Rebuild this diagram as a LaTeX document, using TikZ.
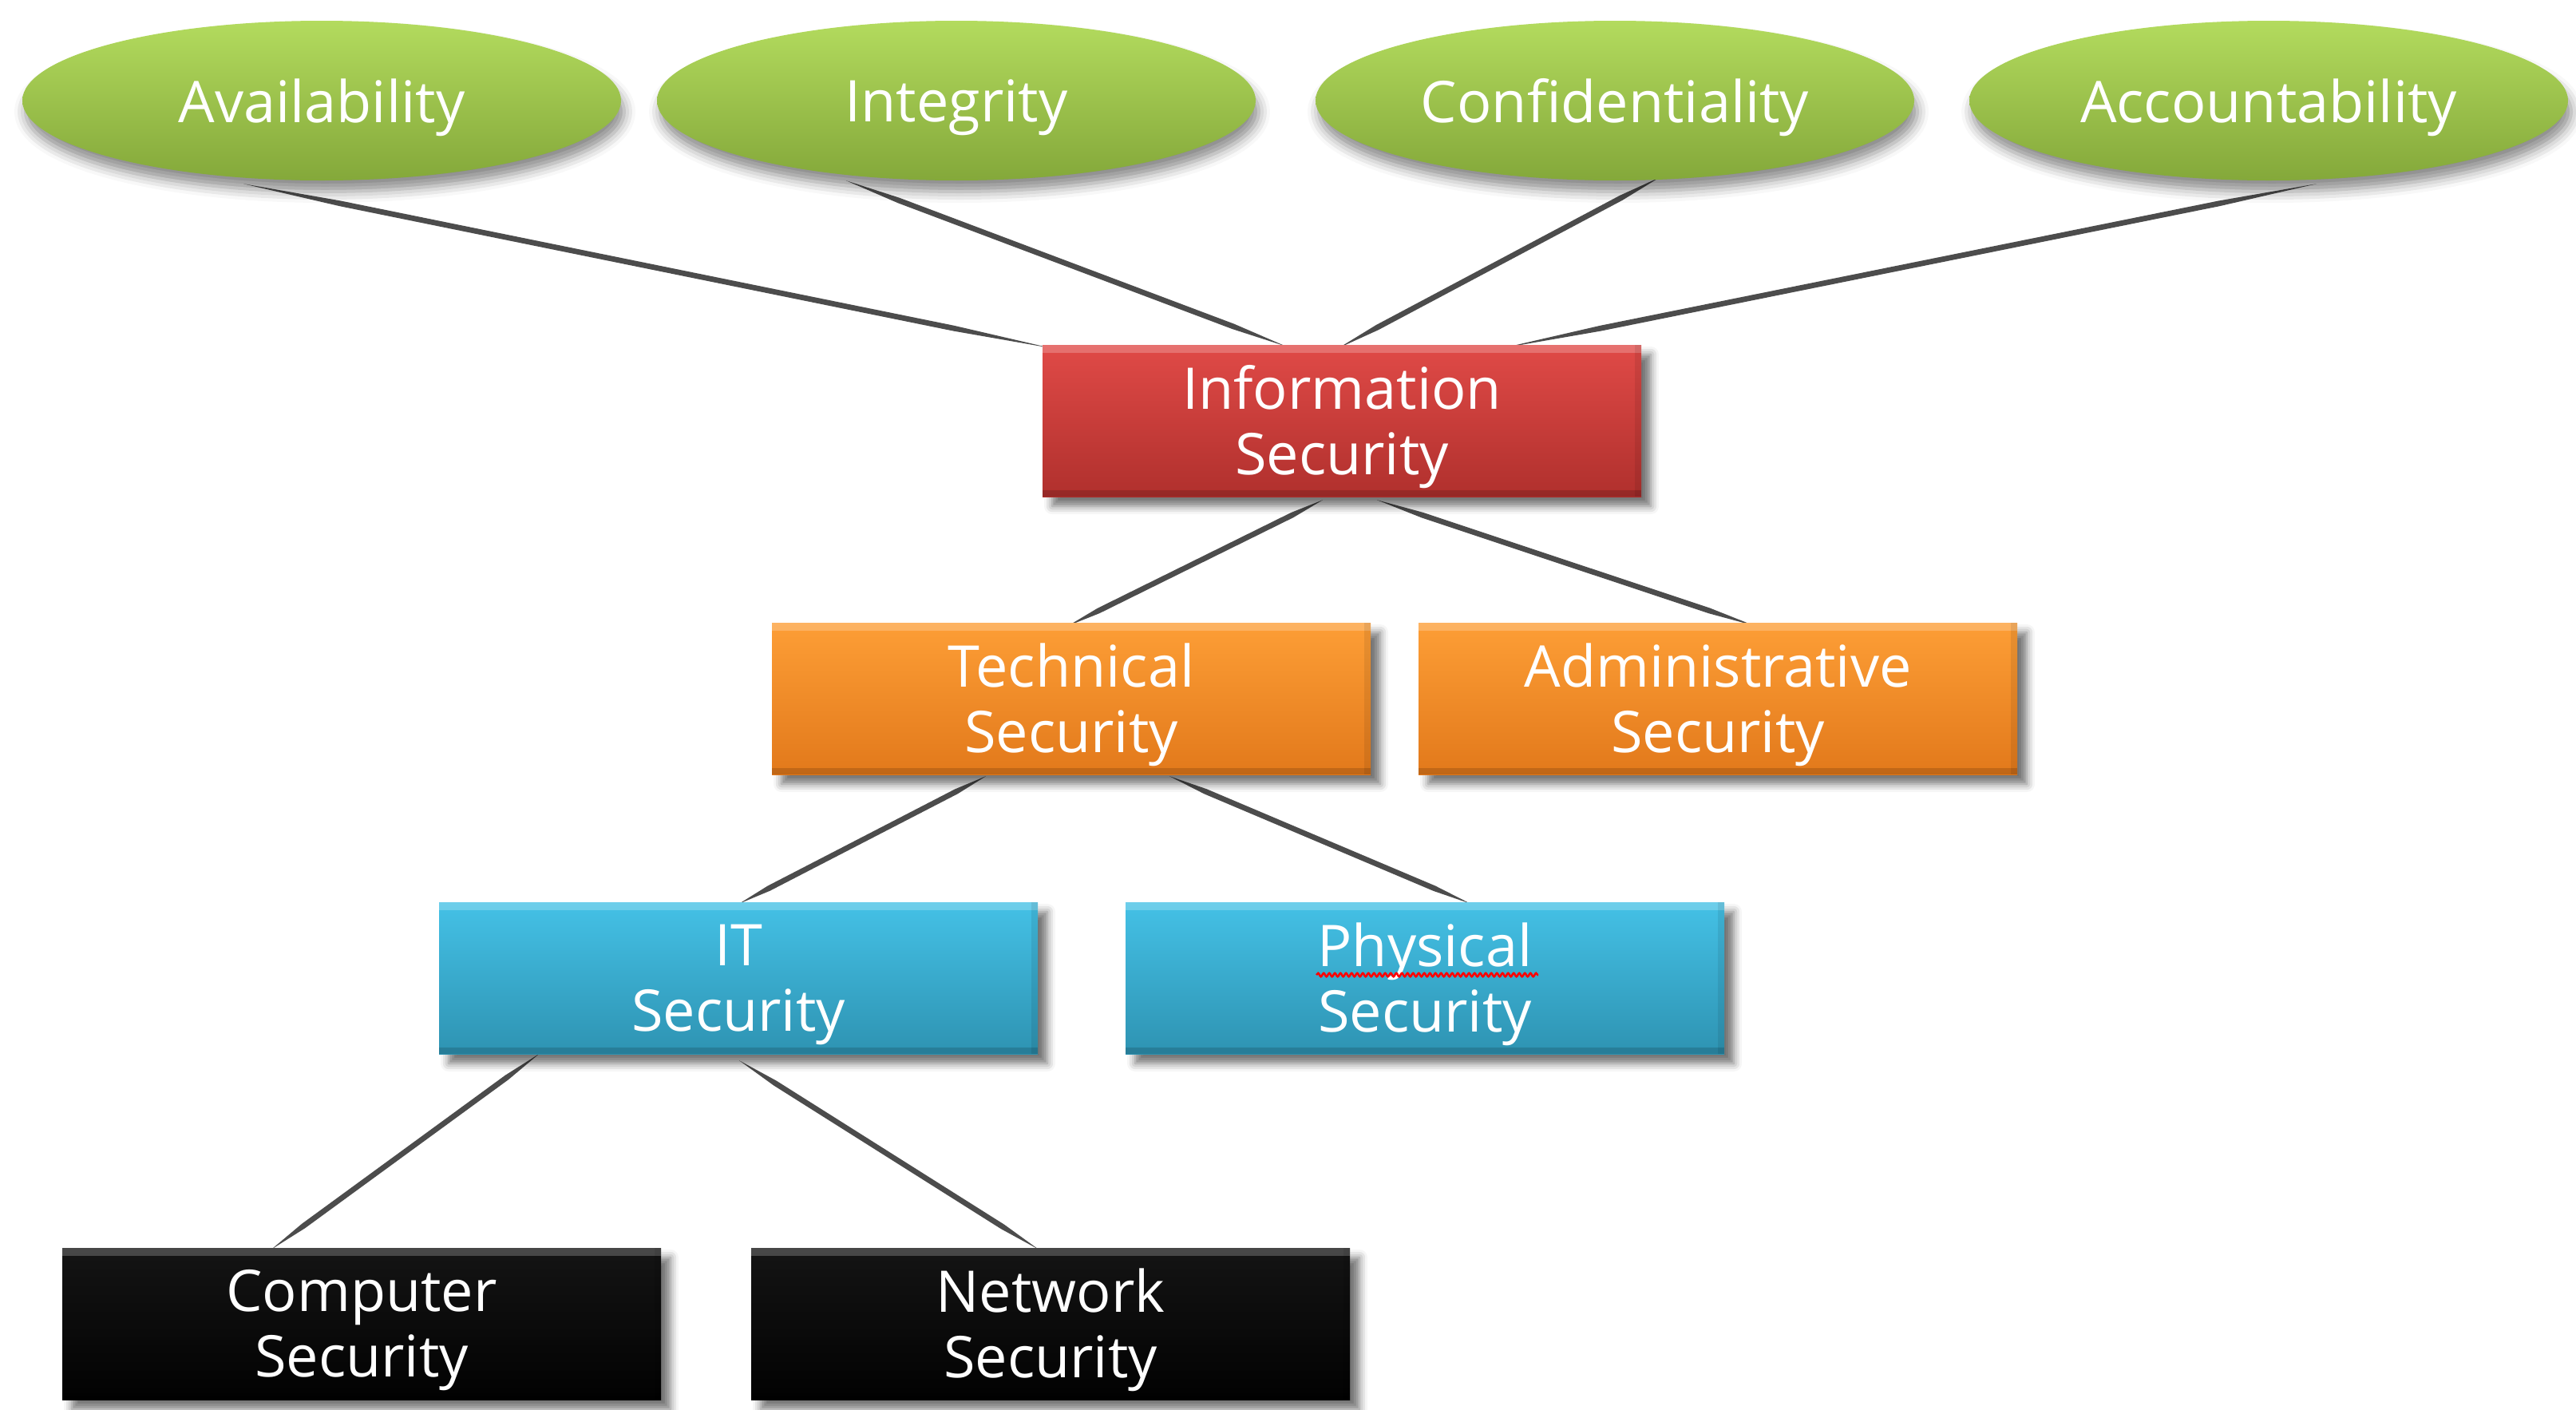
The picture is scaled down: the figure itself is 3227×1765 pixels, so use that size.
\documentclass[tikz,border=0pt]{standalone}
\usepackage{fontspec}
\setmainfont{Open Sans}
\usetikzlibrary{shapes.geometric,shadows.blur,calc,decorations.pathmorphing}
\pgfdeclarelayer{bg}
\pgfsetlayers{bg,main}

\definecolor{grnTop}{HTML}{B3DB5E}
\definecolor{grnBot}{HTML}{84A83A}
\definecolor{redTop}{HTML}{E04A47}
\definecolor{redBot}{HTML}{B0302D}
\definecolor{orgTop}{HTML}{FD9E36}
\definecolor{orgBot}{HTML}{E2791B}
\definecolor{bluTop}{HTML}{44C1E6}
\definecolor{bluBot}{HTML}{2E93B2}
\definecolor{inkTop}{HTML}{141414}
\definecolor{inkBot}{HTML}{020202}
\definecolor{strokeInk}{HTML}{4C4C4C}

\tikzset{
  labeltext/.style={text=white, font=\fontsize{72}{82}\selectfont, align=center, inner sep=0pt},
  pillar/.style={ellipse, minimum width=750pt, minimum height=200pt, inner sep=0pt,
    top color=grnTop, bottom color=grnBot,
    blur shadow={shadow xshift=4pt, shadow yshift=-14pt, shadow blur radius=14pt, shadow opacity=45},
    label={[labeltext, yshift=-9pt]center:{#1}}},
  tile/.style={rectangle, minimum width=750pt, minimum height=190pt, inner sep=0pt,
    blur shadow={shadow xshift=12pt, shadow yshift=-12pt, shadow blur radius=10pt, shadow opacity=55},
    path picture={
      \fill[white, opacity=0.22] (path picture bounding box.north west) rectangle ([yshift=-10pt]path picture bounding box.north east);
      \fill[black, opacity=0.15] (path picture bounding box.south west) rectangle ([yshift=8pt]path picture bounding box.south east);
      \fill[black, opacity=0.08] (path picture bounding box.south east) rectangle ([xshift=-8pt]path picture bounding box.north east);
    },
    label={[labeltext, yshift=-8pt]center:{#1}}},
  redtile/.style={tile={#1}, top color=redTop, bottom color=redBot},
  orangetile/.style={tile={#1}, top color=orgTop, bottom color=orgBot},
  bluetile/.style={tile={#1}, top color=bluTop, bottom color=bluBot},
  inktile/.style={tile={#1}, top color=inkTop, bottom color=inkBot},
}

% tapered brush stroke between two named points
\newcommand\brush[2]{%
  \fill[strokeInk]
    (#1) -- ($(#1)!0.12!(#2)!3.4pt!90:(#2)$) -- ($(#1)!0.88!(#2)!3.4pt!90:(#2)$)
    -- (#2) -- ($(#1)!0.88!(#2)!3.4pt!-90:(#2)$) -- ($(#1)!0.12!(#2)!3.4pt!-90:(#2)$) -- cycle;}

\begin{document}
\begin{tikzpicture}[x=1pt, y=-1pt]
  \useasboundingbox (0,0) rectangle (3227,1765);

  % top row: the four properties
  \node[pillar={Availability}]    (avail) at (403,126)  {};
  \node[pillar={Integrity}]       (integ) at (1198,126) {};
  \node[pillar={Confidentiality}] (confi) at (2023,126) {};
  \node[pillar={Accountability}]  (accnt) at (2842,126) {};

  % hierarchy boxes
  \node[redtile={Information\\Security}]    (info)  at (1681,527)  {};
  \node[orangetile={Technical\\Security}]   (tech)  at (1342,875)  {};
  \node[orangetile={Administrative\\Security}] (admin) at (2152,875) {};
  \node[bluetile={IT\\Security}]            (itsec) at (925,1225)  {};
  \node[bluetile={Physical\\Security}]      (phys)  at (1785,1225) {};
  \node[inktile={Computer\\ Security}]      (comp)  at (453,1658)  {};
  \node[inktile={Network\\Security}]        (netw)  at (1316,1658) {};

  % spell-check squiggle under "Physical"
  \draw[red, line width=2.5pt, decorate, decoration={snake, amplitude=2.2pt, segment length=7pt}]
    ($(phys.center)+(-136,-4)$) -- ($(phys.center)+(142,-4)$);

  % stroke end points
  \coordinate (a1) at ($(avail.south)+(-98,4)$);
  \coordinate (a2) at ($(info.north west)+(10,4)$);
  \coordinate (i1) at ($(integ.south)+(-138,0)$);
  \coordinate (i2) at ($(info.north)+(-70,2)$);
  \coordinate (c1) at ($(confi.south)+(56,-4)$);
  \coordinate (c2) at ($(info.north)+(-4,4)$);
  \coordinate (u1) at ($(accnt.south)+(60,4)$);
  \coordinate (u2) at ($(info.north)+(202,4)$);
  \coordinate (t1) at ($(info.south)+(-24,4)$);
  \coordinate (t2) at ($(tech.north)+(-4,4)$);
  \coordinate (d1) at ($(info.south)+(44,4)$);
  \coordinate (d2) at ($(admin.north)+(46,4)$);
  \coordinate (p1) at ($(tech.south)+(-107,2)$);
  \coordinate (p2) at ($(itsec.north)+(1,2)$);
  \coordinate (q1) at ($(tech.south)+(123,2)$);
  \coordinate (q2) at ($(phys.north)+(57,2)$);
  \coordinate (r1) at ($(itsec.south)+(-250,0)$);
  \coordinate (r2) at ($(comp.north)+(-113,2)$);
  \coordinate (s1) at ($(itsec.south)+(1,8)$);
  \coordinate (s2) at ($(netw.north)+(-15,2)$);

  \begin{pgfonlayer}{bg}
    \brush{a1}{a2}
    \brush{i1}{i2}
    \brush{c1}{c2}
    \brush{u1}{u2}
    \brush{t1}{t2}
    \brush{d1}{d2}
    \brush{p1}{p2}
    \brush{q1}{q2}
    \brush{r1}{r2}
    \brush{s1}{s2}
  \end{pgfonlayer}
\end{tikzpicture}
\end{document}
